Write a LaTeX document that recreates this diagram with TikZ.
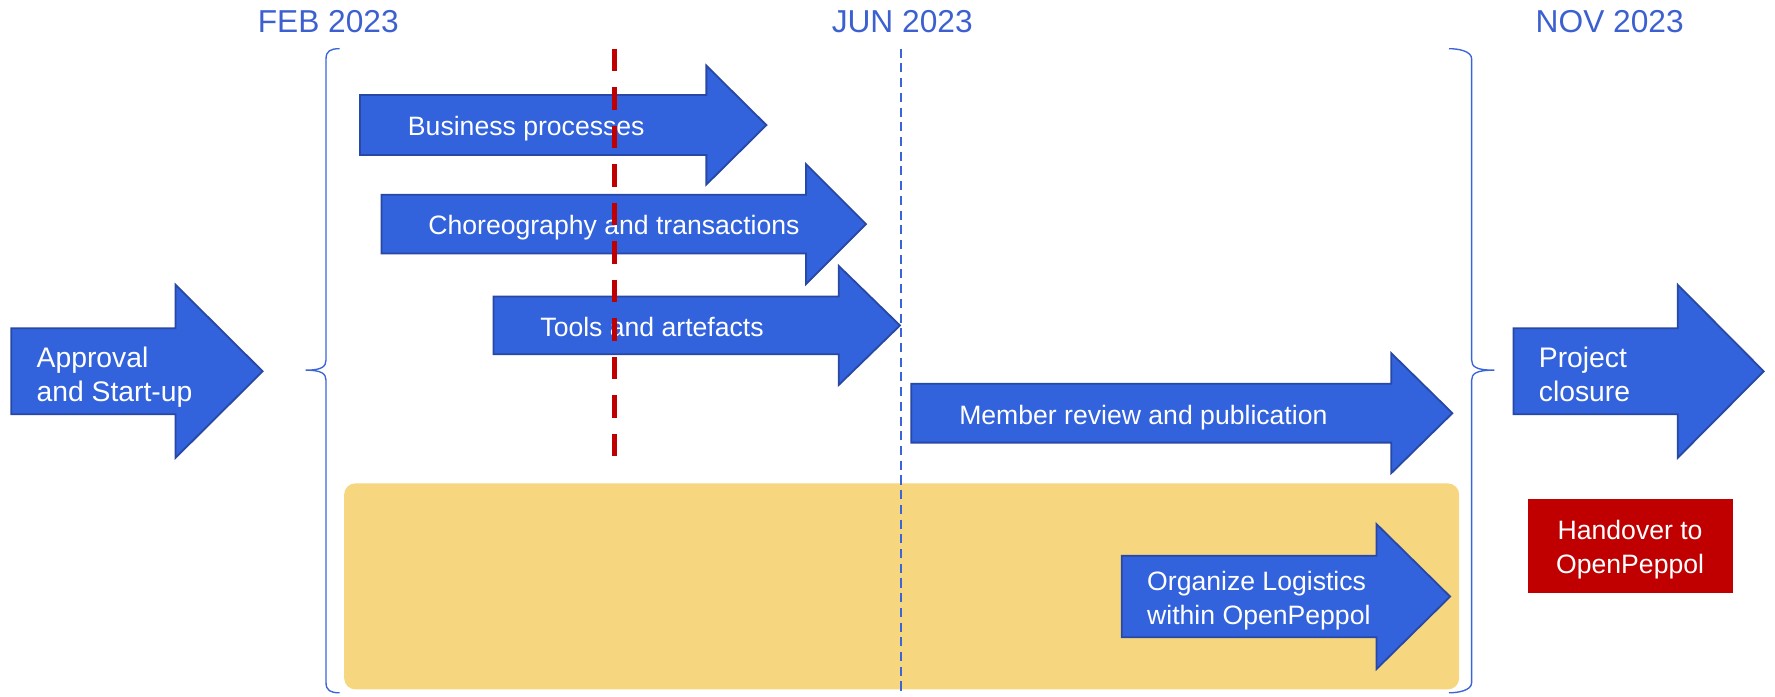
\documentclass[tikz,border=0pt]{standalone}
\usepackage{fontspec}
\setmainfont{Liberation Sans}
\definecolor{arrowblue}{RGB}{50,98,220}
\definecolor{arrowedge}{RGB}{40,72,165}
\definecolor{hdrblue}{RGB}{60,96,208}
\definecolor{gold}{RGB}{246,215,127}
\definecolor{deepred}{RGB}{192,0,0}
\definecolor{linkblue}{RGB}{58,100,216}
\newcommand\lblfont{\fontsize{11.75}{15}\selectfont}
\newcommand\bigfont{\fontsize{12.5}{15}\selectfont}
\newcommand\hdrfont{\fontsize{14}{17}\selectfont}
\tikzset{
  arrowshape/.style={fill=arrowblue, draw=arrowedge, line width=0.8pt, line join=miter},
  txt/.style={text=white, inner sep=0pt, font=\lblfont, anchor=base west, align=left},
  bigtxt/.style={txt, font=\bigfont},
  hdr/.style={text=hdrblue, inner sep=0pt, font=\hdrfont, anchor=base},
  brace/.style={draw=linkblue, line width=0.6pt},
}
\newcommand\blockarrow[6]{%
  \filldraw[arrowshape] (#1,#4-#5) -- (#2,#4-#5) -- (#2,#4-#6) -- (#3,#4) -- (#2,#4+#6) -- (#2,#4+#5) -- (#1,#4+#5) -- cycle;}
\begin{document}
\begin{tikzpicture}[x=0.5pt,y=-0.5pt]
\useasboundingbox (0,0) rectangle (1568,615);
% headers
\node[hdr] (feb) at (290,29) {FEB 2023};
\node[hdr] (jun) at (797,29) {JUN 2023};
\node[hdr] (nov) at (1422,29) {NOV 2023};
% yellow area
\fill[gold, rounded corners=5pt] (304,427) rectangle (1289,609);
% braces
\draw[brace] (300,43) .. controls (292,43) and (288,45) .. (288,52) -- (288,318)
  .. controls (288,324) and (284,327) .. (270,327)
  .. controls (284,327) and (288,330) .. (288,336) -- (288,603)
  .. controls (288,610) and (292,612) .. (300,612);
\draw[brace] (1280,43) .. controls (1288,43) and (1300,45) .. (1300,52) -- (1300,318)
  .. controls (1300,324) and (1304,327) .. (1320,327)
  .. controls (1304,327) and (1300,330) .. (1300,336) -- (1300,603)
  .. controls (1300,610) and (1288,612) .. (1280,612);
% arrows
\blockarrow{10}{155}{232}{328}{38}{76.5}
\blockarrow{318}{624}{677}{110.5}{26.5}{52.5}
\blockarrow{337}{712}{765}{198}{26}{53}
\blockarrow{436}{741}{795}{287.5}{25.5}{52.5}
\blockarrow{805}{1229}{1283}{365}{26}{53}
\blockarrow{991}{1216}{1281}{527}{36}{64}
\blockarrow{1337}{1482}{1558}{328}{38}{76.5}
% handover box
\fill[deepred] (1350,441) rectangle (1531,524);
% labels (multi-line nodes: base = baseline of last line)
\node[bigtxt] (appr) at (32,355) {Approval\\and Start-up};
\node[txt] (bp) at (360,120) {Business processes};
\node[txt] (ch) at (378,207) {Choreography and transactions};
\node[txt] (tl) at (477,297) {Tools and artefacts};
\node[txt] (mr) at (847,375) {Member review and publication};
\node[txt] (ol) at (1013,551.5) {Organize Logistics\\within OpenPeppol};
\node[bigtxt] (pc) at (1359,355) {Project\\closure};
\node[txt, anchor=base, align=center] (ho) at (1440,506.5) {Handover to\\OpenPeppol};
% timeline markers
\coordinate (jtop) at (796,43);
\coordinate (jbot) at (796,612);
\draw[linkblue, line width=0.75pt, dash pattern=on 4pt off 2.5pt] (jtop) -- (jbot);
\coordinate (rtop) at (543,43);
\coordinate (rbot) at (543,415);
\draw[deepred, line width=2pt, dash pattern=on 10pt off 7pt] (rtop) -- (rbot);
\end{tikzpicture}
\end{document}
